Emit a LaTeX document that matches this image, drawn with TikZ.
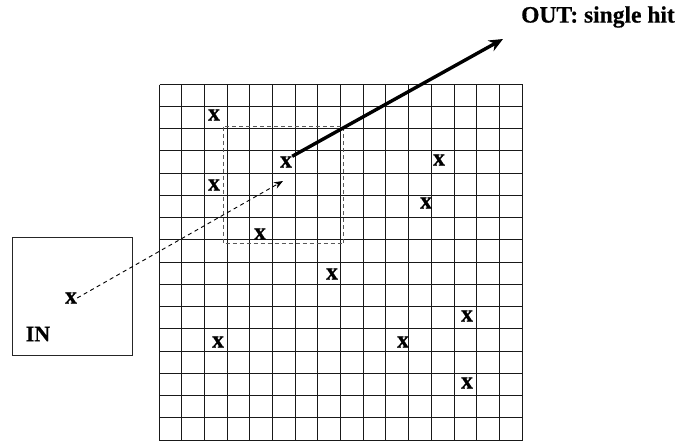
\documentclass[tikz,border=0pt]{standalone}
\usepackage{fontspec}
\setmainfont{Liberation Serif}
\newfontfamily\heavyfont[FakeBold=0.5]{Liberation Serif Bold}
\usetikzlibrary{arrows.meta}
\begin{document}
\begin{tikzpicture}[x=1pt,y=-1pt,
  gridline/.style={line width=1.2pt,black!90},
  xmark/.style={inner sep=0pt,font=\fontsize{24}{24}\heavyfont},
  lbl/.style={inner sep=0pt,font=\fontsize{23.5}{24}\heavyfont},
  window/.style={dashed,dash pattern=on 4pt off 3pt,line width=0.7pt,black!65},
  inbox/.style={draw,line width=1pt,black!85,minimum width=120pt,minimum height=118pt,inner sep=0pt},
  probe/.style={dashed,dash pattern=on 4pt off 3.5pt,line width=0.9pt,-{Stealth[length=9pt,width=7pt]}},
  result/.style={line width=3.4pt,-{Stealth[length=14pt,width=12pt]}}]
\useasboundingbox (0,0) rectangle (683,442);
% grid 16x16
\foreach \i in {0,...,16}{
  \pgfmathsetmacro{\gx}{floor(159+22.7*\i)+0.5}
  \pgfmathsetmacro{\gy}{floor(84+22.25*\i)+0.5}
  \draw[gridline] (\gx,84.5) -- (\gx,440.5);
  \draw[gridline] (159.5,\gy) -- (522.5,\gy);
}
% search window
\draw[window] (223.5,126.5) rectangle (343.5,243.5);
% IN box
\node[inbox] (inb) at (72,296) {};
\node[lbl,font=\fontsize{22}{22}\heavyfont] (inl) at (38,334) {IN};
\node[xmark] (inx) at (71,298) {x};
% hits
\node[xmark] (h1) at (214,115) {x};
\node[xmark] (hit) at (286,162) {x};
\node[xmark] (h3) at (214,185) {x};
\node[xmark] (h4) at (260,234) {x};
\node[xmark] (h5) at (332,274) {x};
\node[xmark] (h6) at (439,160) {x};
\node[xmark] (h7) at (426,203) {x};
\node[xmark] (h8) at (467,316) {x};
\node[xmark] (h9) at (403,342) {x};
\node[xmark] (h10) at (218,342) {x};
\node[xmark] (h11) at (467,383) {x};
% out label
\node[lbl] (outl) at (598,17) {OUT: single hit};
% connectors
\coordinate (ptip) at (283,181);
\coordinate (otip) at (503,39);
\draw[probe] (inx.east) -- (ptip);
\draw[result] (hit.north east) -- (otip);
\end{tikzpicture}
\end{document}
